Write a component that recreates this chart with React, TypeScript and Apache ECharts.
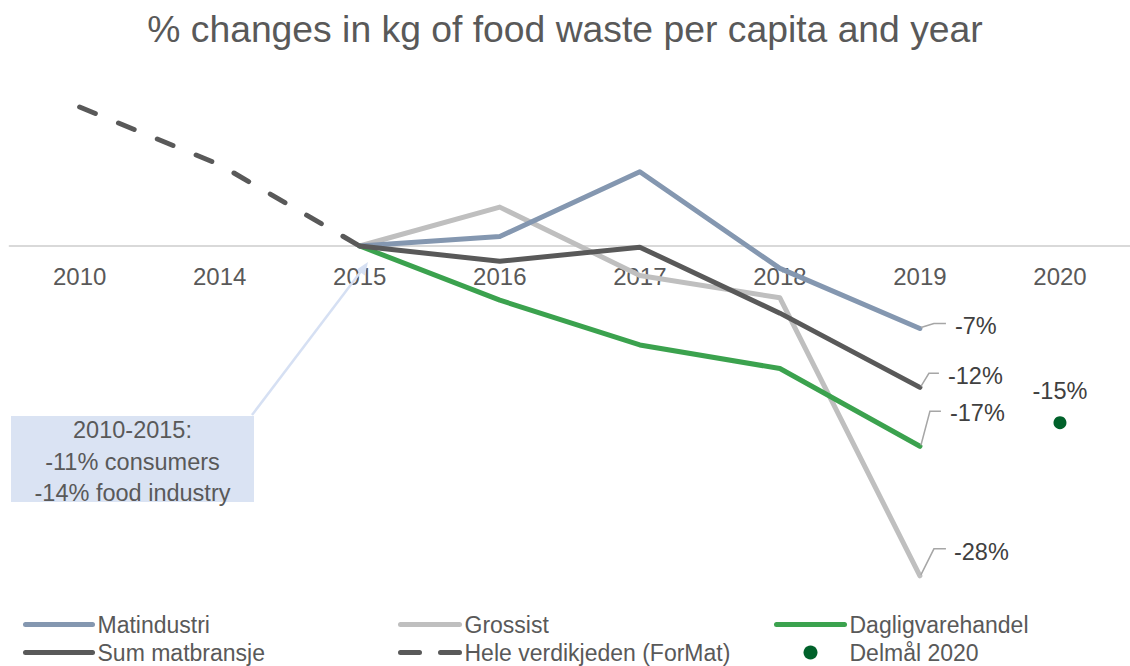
import React, { useEffect, useRef } from "react";
import * as echarts from "echarts";

// Years on the category axis
const years = ["2010", "2014", "2015", "2016", "2017", "2018", "2019", "2020"];

// % change in kg food waste per capita, relative to 2015
const matindustri = [null, null, 0, 0.8, 6.3, -1.9, -7, null];
const grossist = [null, null, 0, 3.3, -2.5, -4.4, -28, null];
const dagligvarehandel = [null, null, 0, -4.6, -8.4, -10.4, -17, null];
const sumMatbransje = [null, null, 0, -1.3, -0.1, -5.7, -12, null];
const heleVerdikjeden = [11.8, 6.9, 0, null, null, null, null, null];
const delmal2020 = [null, null, null, null, null, null, null, -15];

const FONT = "'Liberation Sans', Arial, sans-serif";
const TEXT = "#595959";

// Value range of the hidden y axis and the plot box
const Y_MIN = -30;
const Y_MAX = 15;
const GRID_TOP = 69.3;
const GRID_HEIGHT = 530.1;

// Leader geometry for the 2019 end labels: bend point, end of the horizontal stub, text anchor
const leaderShapes: Record<string, number[][]> = {
  Matindustri: [[14, -5], [26, -5], [35, -2]],
  "Sum matbransje": [[9, -14], [19, -14], [28, -11]],
  Dagligvarehandel: [[10, -35], [21, -35], [30, -33]],
  Grossist: [[14, -27], [26, -27], [34, -24]],
};

export default function App() {
  const ref = useRef<HTMLDivElement>(null);

  useEffect(() => {
    if (!ref.current) return;
    const chart = echarts.init(ref.current, null, { renderer: "svg" });

    const endIdx = years.indexOf("2019");
    const endSeries: [string, (number | null)[]][] = [
      ["Matindustri", matindustri],
      ["Sum matbransje", sumMatbransje],
      ["Dagligvarehandel", dagligvarehandel],
      ["Grossist", grossist],
    ];
    const endData = endSeries.map(([name, arr]) => ({ name, value: [endIdx, arr[endIdx]] }));

    // the category axis sits on the zero line of the value range
    const zeroOffset = (GRID_HEIGHT * (0 - Y_MIN)) / (Y_MAX - Y_MIN);

    const lineBase = (name: string, data: (number | null)[], color: string, z: number, dashed = false) => ({
      name,
      type: "line",
      data,
      z,
      showSymbol: false,
      symbol: "none",
      connectNulls: false,
      silent: true,
      lineStyle: {
        color,
        width: 5,
        cap: "round",
        join: "round",
        type: dashed ? [17, 25] : "solid",
      },
      itemStyle: { color },
    });

    // legend entries for line series show only the stroke, no marker dot
    const lineEntry = (name: string, extra: any = {}) => ({
      name,
      itemStyle: { opacity: 0 },
      ...extra,
    });

    const legendCommon = {
      orient: "vertical",
      top: 613,
      height: 60,
      itemHeight: 12,
      itemGap: 5,
      padding: 0,
      lineStyle: { width: 5, cap: "round" },
      textStyle: { fontFamily: FONT, fontSize: 23, color: TEXT },
      selectedMode: false,
    };

    chart.setOption({
      animation: false,
      backgroundColor: "#ffffff",
      title: {
        text: "% changes in kg of food waste per capita and year",
        left: "center",
        top: 5,
        textStyle: { fontFamily: FONT, fontSize: 37.3, fontWeight: "normal", color: TEXT },
      },
      legend: [
        {
          ...legendCommon,
          left: 23,
          itemWidth: 67,
          data: [lineEntry("Matindustri"), lineEntry("Sum matbransje")],
        },
        {
          ...legendCommon,
          left: 398,
          itemWidth: 59,
          data: [
            lineEntry("Grossist"),
            lineEntry("Hele verdikjeden (ForMat)", { lineStyle: { width: 5, cap: "round", type: [19, 21] } }),
          ],
        },
        {
          ...legendCommon,
          left: 774,
          itemWidth: 68,
          itemHeight: 14,
          data: [lineEntry("Dagligvarehandel"), { name: "Delmål 2020" }],
        },
      ],
      grid: { left: 9.6, width: 1126, top: GRID_TOP, height: GRID_HEIGHT, containLabel: false },
      xAxis: {
        type: "category",
        data: years,
        boundaryGap: true,
        position: "bottom",
        offset: -zeroOffset,
        axisLine: { show: true, onZero: false, lineStyle: { color: "#D9D9D9", width: 2 } },
        axisTick: { show: false },
        axisLabel: { fontFamily: FONT, fontSize: 24, color: TEXT, margin: 18 },
        splitLine: { show: false },
      },
      yAxis: {
        type: "value",
        min: Y_MIN,
        max: Y_MAX,
        show: false,
        splitLine: { show: false },
      },
      graphic: [
        {
          type: "line",
          shape: { x1: 252, y1: 415, x2: 362, y2: 270 },
          style: { stroke: "#D6E0F3", lineWidth: 2.5 },
          z: 1,
        },
        {
          type: "polygon",
          shape: { points: [[368, 262], [364.8, 275.6], [356.8, 269.6]] },
          style: { fill: "#D6E0F3" },
          z: 1,
        },
        {
          type: "rect",
          shape: { x: 11, y: 416, width: 243, height: 86 },
          style: { fill: "#DAE3F3" },
          z: 1,
        },
        {
          type: "text",
          x: 132.5,
          y: 461.5,
          z: 2,
          style: {
            text: "2010-2015:\n-11% consumers\n-14% food industry",
            fontFamily: FONT,
            fontSize: 23.5,
            lineHeight: 31.5,
            fill: TEXT,
            align: "center",
            verticalAlign: "middle",
          },
        },
      ],
      series: [
        lineBase("Grossist", grossist, "#BFBFBF", 2),
        lineBase("Matindustri", matindustri, "#8497B0", 3),
        lineBase("Dagligvarehandel", dagligvarehandel, "#3BA24E", 4),
        lineBase("Sum matbransje", sumMatbransje, "#595959", 5),
        lineBase("Hele verdikjeden (ForMat)", heleVerdikjeden, "#595959", 6, true),
        {
          name: "Delmål 2020",
          type: "scatter",
          data: delmal2020,
          symbol: "circle",
          symbolSize: 13,
          itemStyle: { color: "#00612A", opacity: 1 },
          z: 7,
          label: {
            show: true,
            position: "top",
            distance: 13,
            formatter: (p: any) => `${p.value}%`,
            fontFamily: FONT,
            fontSize: 23.5,
            color: "#404040",
            opacity: 1,
          },
        },
        {
          name: "end labels",
          type: "custom",
          data: endData,
          z: 8,
          clip: false,
          silent: true,
          renderItem: (params: any, api: any) => {
            const idx = params.dataIndex;
            const item = endData[idx];
            const [x, y] = api.coord([api.value(0), api.value(1)]);
            const shape = leaderShapes[item.name];
            return {
              type: "group",
              children: [
                {
                  type: "polyline",
                  shape: {
                    points: [
                      [x + 1, y - 1],
                      [x + shape[0][0], y + shape[0][1]],
                      [x + shape[1][0], y + shape[1][1]],
                    ],
                  },
                  style: { stroke: "#A6A6A6", lineWidth: 1.5, fill: null },
                },
                {
                  type: "text",
                  x: x + shape[2][0],
                  y: y + shape[2][1],
                  style: {
                    text: `${api.value(1)}%`,
                    fontFamily: FONT,
                    fontSize: 23.5,
                    fill: "#404040",
                    align: "left",
                    verticalAlign: "middle",
                  },
                },
              ],
            };
          },
        },
      ],
    });

    return () => chart.dispose();
  }, []);

  return (
    <div
      ref={ref}
      style={{ position: "absolute", left: 0, top: 0, width: 1130, height: 666 }}
    />
  );
}
